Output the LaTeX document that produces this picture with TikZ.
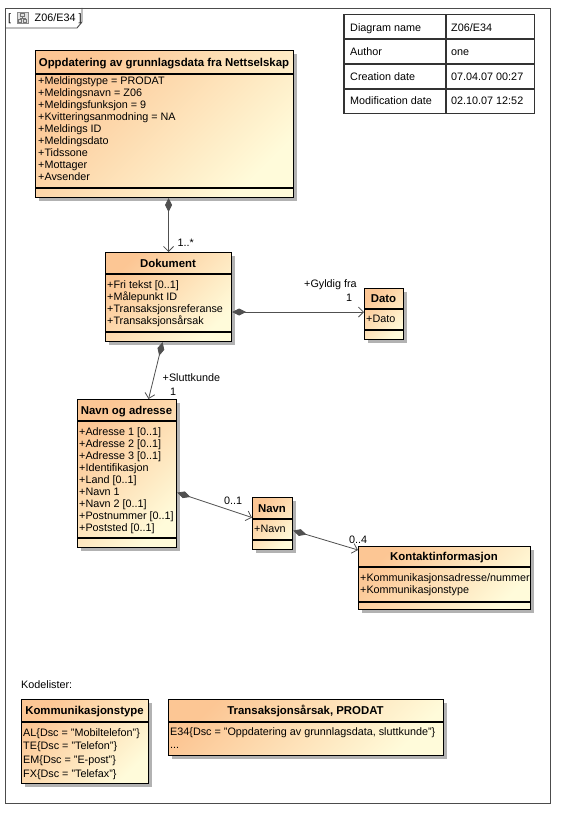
\documentclass[tikz,border=0pt]{standalone}
\usepackage{fontspec}
\setmainfont{Liberation Sans}
\usetikzlibrary{arrows.meta,shadows}

\definecolor{umlorange}{RGB}{252,198,148}
\definecolor{umlyellow}{RGB}{255,251,218}
\definecolor{umlline}{RGB}{80,80,80}

\tikzset{
  umlclass/.style={draw=black, line width=1.1pt, anchor=north west, inner sep=0pt,
    top color=umlorange, bottom color=umlyellow, shading angle=45,
    drop shadow={shadow xshift=3pt, shadow yshift=-3pt, fill=black!30, opacity=1}},
  umlsep/.style={draw=black, line width=1.1pt},
  umltitle/.style={font=\fontsize{11.4}{13}\selectfont\bfseries, inner sep=0pt, text height=8.2pt, text depth=0pt},
  umlattr/.style={font=\fontsize{10.8}{12}\selectfont, anchor=north west, align=left, inner sep=0pt},
  umllabel/.style={font=\fontsize{10.8}{12}\selectfont, anchor=west, inner sep=0pt, text height=7.8pt, text depth=0pt},
  composition/.style={draw=umlline, line width=0.8pt,
    {Diamond[length=14pt,width=7pt,fill=umlline]}-{Straight Barb[length=5pt,width=10pt]}},
  infoline/.style={draw=black!80, line width=1.2pt},
  framel/.style={draw=black!70, line width=0.9pt}
}

\begin{document}
\begin{tikzpicture}[x=1pt,y=-1pt]
  \useasboundingbox (0,0) rectangle (565,818);
  \draw[framel, fill=white] (5,8) rectangle (550,803);
  \draw[framel] (5,28) -- (77,28) -- (82,22) -- (82,8);
  \node[umllabel] (tabl) at (8,17.5) {[};
  \draw[draw=black!45, fill=black!12, line width=0.6pt] (17,12) rectangle (28,23);
  \draw[draw=black!55, line width=0.6pt] (20.5,13.5) rectangle (24.5,16.5);
  \draw[draw=black!55, line width=0.6pt] (18.5,19.5) rectangle (21.5,22);
  \draw[draw=black!55, line width=0.6pt] (23.5,19.5) rectangle (26.5,22);
  \draw[draw=black!55, line width=0.6pt] (22.5,16.5) -- (22.5,18) (20,18) -- (25,18) (20,18) -- (20,19.5) (25,18) -- (25,19.5);
  \node[umllabel] (tabname) at (34.5,17.5) {Z06/E34 ]};

  \draw[infoline] (344,14.5) rectangle (534.5,113.5);
  \draw[infoline] (446,14.5) -- (446,113.5);
  \draw[infoline] (344,39) -- (534.5,39);
  \draw[infoline] (344,64) -- (534.5,64);
  \draw[infoline] (344,89) -- (534.5,89);
  \node[umllabel] (dname) at (350,27.5) {Diagram name};
  \node[umllabel] (dnameval) at (451,27.5) {Z06/E34};
  \node[umllabel] (author) at (350,52) {Author};
  \node[umllabel] (authorval) at (451,52) {one};
  \node[umllabel] (created) at (350,77) {Creation date};
  \node[umllabel] (createdval) at (451,77) {07.04.07 00:27};
  \node[umllabel] (modified) at (350,101) {Modification date};
  \node[umllabel] (modifiedval) at (451,101) {02.10.07 12:52};

  \node[umlclass, minimum width=258pt, minimum height=147pt] (oppd) at (35,50) {};
  \draw[umlsep] (35,74) -- (293,74);
  \draw[umlsep] (35,188) -- (293,188);
  \node[umltitle] (oppdtitle) at (164,62) {Oppdatering av grunnlagsdata fra Nettselskap};
  \node[umlattr] (oppdattr) at (38,76) {+Meldingstype = PRODAT\\+Meldingsnavn = Z06\\+Meldingsfunksjon = 9\\+Kvitteringsanmodning = NA\\+Meldings ID\\+Meldingsdato\\+Tidssone\\+Mottager\\+Avsender};

  \node[umlclass, minimum width=126pt, minimum height=89pt] (dok) at (105,252) {};
  \draw[umlsep] (105,274) -- (231,274);
  \draw[umlsep] (105,332) -- (231,332);
  \node[umltitle] (doktitle) at (168,263) {Dokument};
  \node[umlattr] (dokattr) at (107,280.5) {+Fri tekst [0..1]\\+Målepunkt ID\\+Transaksjonsreferanse\\+Transaksjonsårsak};

  \node[umlclass, minimum width=39pt, minimum height=51pt] (dato) at (364,288) {};
  \draw[umlsep] (364,309) -- (403,309);
  \draw[umlsep] (364,330) -- (403,330);
  \node[umltitle] (datotitle) at (383.5,298.5) {Dato};
  \node[umlattr] (datoattr) at (366,315) {+Dato};

  \node[umlclass, minimum width=99pt, minimum height=148pt] (noa) at (77,399) {};
  \draw[umlsep] (77,421) -- (176,421);
  \draw[umlsep] (77,538) -- (176,538);
  \node[umltitle] (noatitle) at (126.5,410) {Navn og adresse};
  \node[umlattr] (noaattr) at (79,427) {+Adresse 1 [0..1]\\+Adresse 2 [0..1]\\+Adresse 3 [0..1]\\+Identifikasjon\\+Land [0..1]\\+Navn 1\\+Navn 2 [0..1]\\+Postnummer [0..1]\\+Poststed [0..1]};

  \node[umlclass, minimum width=40pt, minimum height=52pt] (navn) at (252,497) {};
  \draw[umlsep] (252,519) -- (292,519);
  \draw[umlsep] (252,540) -- (292,540);
  \node[umltitle] (navntitle) at (272,508) {Navn};
  \node[umlattr] (navnattr) at (254,525) {+Navn};

  \node[umlclass, minimum width=172pt, minimum height=63pt] (kont) at (358,546) {};
  \draw[umlsep] (358,567) -- (530,567);
  \draw[umlsep] (358,602) -- (530,602);
  \node[umltitle] (konttitle) at (444,556.5) {Kontaktinformasjon};
  \node[umlattr] (kontattr) at (360,573) {+Kommunikasjonsadresse/nummer\\+Kommunikasjonstype};

  \draw[composition] (oppd.south -| dok.north) -- (dok.north);
  \draw[composition] ([yshift=2pt]dato.west -| dok.east) -- ([yshift=2pt]dato.west);
  \draw[composition] ([xshift=-6pt]dok.south) -- ([xshift=21.5pt]noa.north);
  \draw[composition] ([yshift=-19pt]noa.east) -- ([yshift=6pt]navn.west);
  \draw[composition] ([yshift=-7pt]navn.east) -- ([yshift=-4pt]kont.north west);

  \node[umllabel] (mult1) at (177.5,243) {1..*};
  \node[umllabel] (role2) at (304,284) {+Gyldig fra};
  \node[umllabel] (mult2) at (346,298) {1};
  \node[umllabel] (role3) at (162.5,378) {+Sluttkunde};
  \node[umllabel] (mult3) at (170,392) {1};
  \node[umllabel] (mult4) at (224,500.5) {0..1};
  \node[umllabel] (mult5) at (349,540) {0..4};

  \node[umllabel] (kodelister) at (21,685) {Kodelister:};

  \node[umlclass, minimum width=127pt, minimum height=84pt] (kkl) at (21,699) {};
  \draw[umlsep] (21,722) -- (148,722);
  \node[umltitle] (kkltitle) at (84.5,710.5) {Kommunikasjonstype};
  \node[umlattr, font=\fontsize{10.8}{13.8}\selectfont] (kklattr) at (23,728) {AL\{Dsc = "Mobiltelefon"\}\\TE\{Dsc = "Telefon"\}\\EM\{Dsc = "E-post"\}\\FX\{Dsc = "Telefax"\}};

  \node[umlclass, minimum width=275pt, minimum height=56pt] (tkl) at (168,699) {};
  \draw[umlsep] (168,722) -- (443,722);
  \node[umltitle] (tkltitle) at (305.5,710.5) {Transaksjonsårsak, PRODAT};
  \node[umlattr, font=\fontsize{10.8}{13}\selectfont] (tklattr) at (170,727) {E34\{Dsc = "Oppdatering av grunnlagsdata, sluttkunde"\}\\...};
\end{tikzpicture}
\end{document}
